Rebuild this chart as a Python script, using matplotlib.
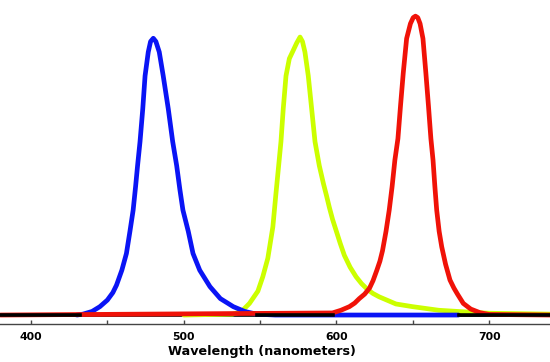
import matplotlib
matplotlib.use('Agg')
import matplotlib.pyplot as plt

# emission spectra (relative intensity, red peak = 1)
blue_nm = [430, 434, 440, 445.1, 450, 453.6, 456, 459.5, 462.5, 464.8, 466.9, 468.5, 469.8,
           471.4, 473.2, 474.7, 476.8, 478.3, 480.1, 481.8, 484.0, 486.6, 489.9, 492.8,
           495.4, 497.5, 499.5, 503, 506.1, 510.5, 517.2, 524, 532.5, 540, 547.6, 560, 600, 680]
blue_val = [0, 0.003, 0.012, 0.028, 0.05, 0.075, 0.1, 0.15, 0.206, 0.28, 0.351, 0.43, 0.50,
            0.58, 0.69, 0.80, 0.88, 0.915, 0.926, 0.915, 0.88, 0.80, 0.69, 0.58,
            0.50, 0.42, 0.351, 0.28, 0.206, 0.15, 0.095, 0.055, 0.028, 0.012, 0.003, 0, 0, 0]

yellow_nm = [500, 532, 537.7, 543.1, 548.6, 551.8, 555.1, 558.4, 560.3, 562.2, 563.7, 565.2,
             567.0, 569.2, 571.8, 574, 576.2, 577.8, 579.4, 581.6, 583.8, 586, 588.8, 591.5,
             593.5, 595.4, 597.5, 600, 602.5, 605.2, 609, 612.9, 616.5, 620.5, 624, 628,
             639, 649.9, 667, 682.6, 700, 740]
yellow_val = [0, 0.003, 0.011, 0.039, 0.08, 0.128, 0.19, 0.295, 0.40, 0.50, 0.58, 0.69,
              0.80, 0.858, 0.886, 0.91, 0.93, 0.915, 0.88, 0.80, 0.69, 0.58, 0.50, 0.44,
              0.40, 0.36, 0.32, 0.28, 0.24, 0.2, 0.16, 0.128, 0.105, 0.085, 0.072, 0.061,
              0.037, 0.028, 0.016, 0.011, 0.006, 0.003]

red_nm = [380, 597.4, 603, 608.5, 612, 615, 618.5, 621.7, 624, 626.5, 628.5, 630.2, 632.5,
          634.6, 636.5, 638.3, 640.3, 642, 643.8, 646, 648.5, 650.3, 651.8, 653.3, 654.8,
          656.7, 658.6, 660.3, 661.9, 663.3, 664.5, 665.7, 667.3, 669, 671.5, 674.4, 677,
          679.3, 683.1, 688, 694, 700, 740]
red_val = [0, 0.007, 0.016, 0.028, 0.04, 0.055, 0.07, 0.09, 0.115, 0.15, 0.18, 0.215, 0.28,
           0.351, 0.43, 0.518, 0.59, 0.70, 0.81, 0.925, 0.975, 0.995, 1.0, 0.995, 0.975,
           0.925, 0.81, 0.70, 0.59, 0.518, 0.43, 0.351, 0.28, 0.228, 0.17, 0.117, 0.09,
           0.07, 0.039, 0.02, 0.008, 0.002, 0]

# stretches where the black baseline trace lies on top
baseline_ranges = [(380, 432), (548, 598), (680, 740)]

major_ticks = [400, 500, 600, 700]
minor_ticks = [450, 550, 650]

fig = plt.figure(figsize=(5.5, 3.62), dpi=100)
ax = fig.add_axes([0, 38 / 362, 1, 324 / 362])

line_kw = dict(lw=3.4, solid_capstyle='round', solid_joinstyle='round')
ax.plot([380, 740], [0, 0], color='black', lw=2.6, zorder=1)
ax.plot(yellow_nm, yellow_val, color='#ccff00', zorder=2, **line_kw)
ax.plot(blue_nm, blue_val, color='#0a14f5', zorder=3, **line_kw)
ax.plot(red_nm, red_val, color='#f01208', zorder=4, **line_kw)
for lo, hi in baseline_ranges:
    ax.plot([lo, hi], [0, 0], color='black', lw=2.6, zorder=5)

ax.set_xlim(379.7, 739.9)
ax.set_ylim(-0.030, 1.054)

for s in ['top', 'left', 'right']:
    ax.spines[s].set_visible(False)
ax.spines['bottom'].set_color('#444444')
ax.spines['bottom'].set_linewidth(1.0)

ax.set_yticks([])
ax.set_xticks(major_ticks)
ax.set_xticks(minor_ticks, minor=True)
ax.tick_params(axis='x', which='both', direction='in', length=3, width=1,
               color='#444444', pad=6)
for lab in ax.get_xticklabels():
    lab.set_fontweight('bold')
    lab.set_fontsize(7.8)

ax.set_xlabel('Wavelength (nanometers)', fontsize=9.2, fontweight='bold')
ax.xaxis.set_label_coords(0.476, -0.086)
ax.xaxis.label.set_va('center')

fig.savefig('out.png', dpi=100, facecolor='white')
